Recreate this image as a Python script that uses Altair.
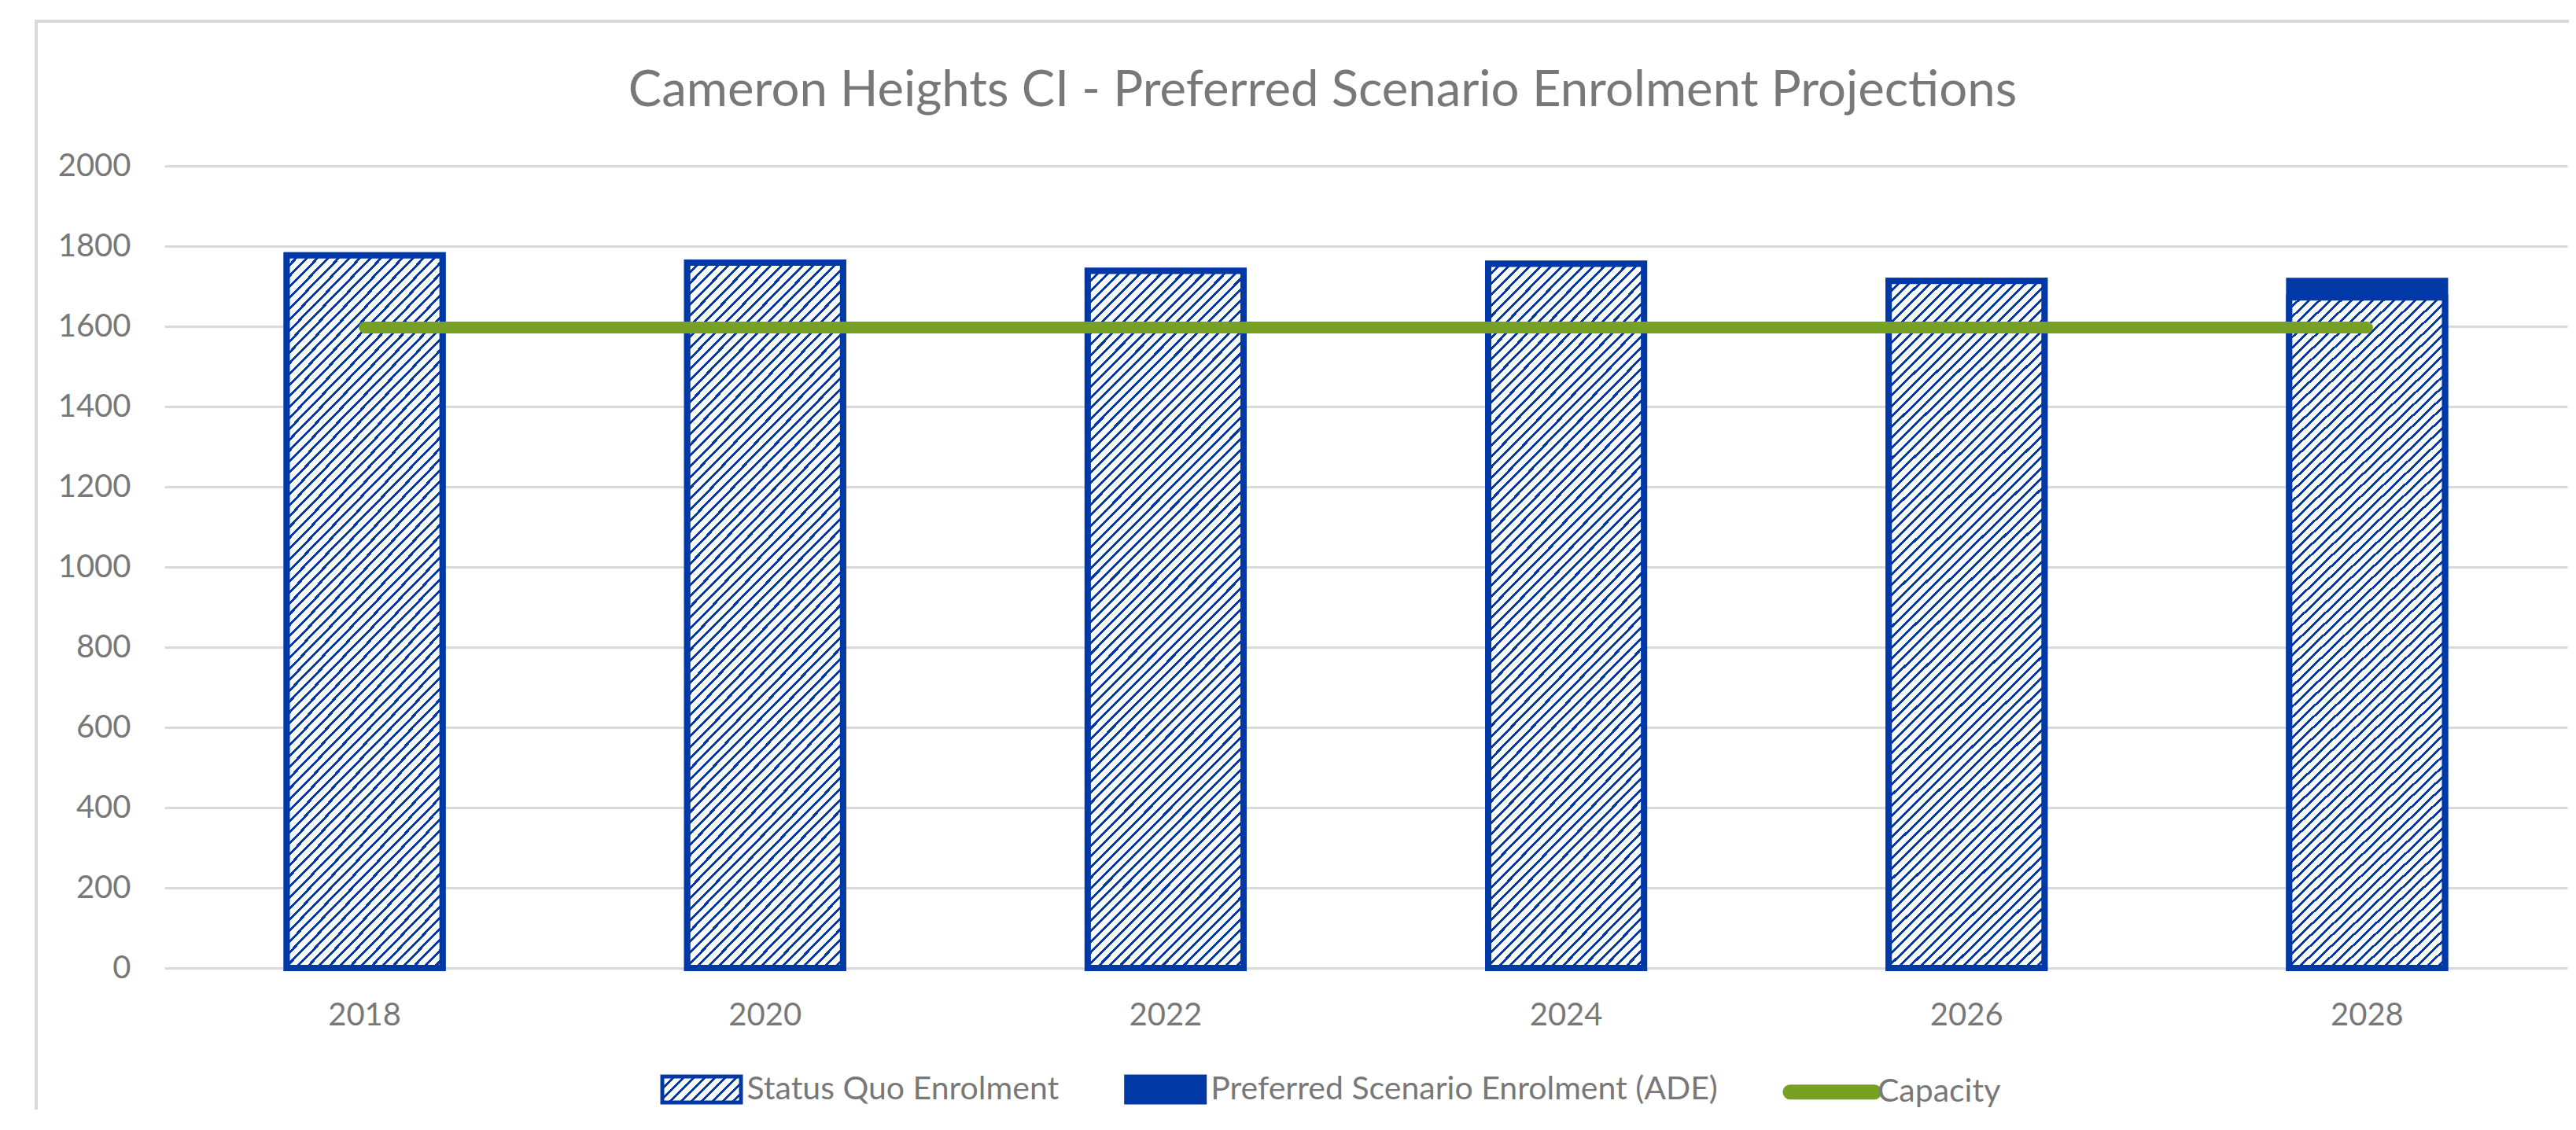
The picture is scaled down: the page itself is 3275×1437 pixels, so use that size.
import altair as alt
import pandas as pd

# ---------------- data ----------------
years = ["2018", "2020", "2022", "2024", "2026", "2028"]
status_quo = [1777, 1759, 1738, 1756, 1713, 1672]
preferred = [1777, 1759, 1738, 1756, 1713, 1713]
capacity = [1597, 1597, 1597, 1597, 1597, 1597]
series_names = ["Status Quo Enrolment", "Preferred Scenario Enrolment (ADE)", "Capacity"]
series_keys = ["sq", "pref", "cap"]
y_ticks = [0, 200, 400, 600, 800, 1000, 1200, 1400, 1600, 1800, 2000]
title_text = "Cameron Heights CI - Preferred Scenario Enrolment Projections"

# ---------------- styles ----------------
BLUE = "#0039A6"
GREEN = "#77A124"
GRID = "#D9D9D9"
TEXT = "#787878"
FONT = "Lato"

W, H = 3055, 1020


def hatch_coords(r):
    # gradient vector (objectBoundingBox units) giving 45deg "/" stripes for a box of aspect h/w = r
    a = (1 + r) / (1 + r * r)
    return a, a * r


def hatch_stops(n, frac):
    out = []
    for i in range(n):
        s0, s1, s2 = i / n, (i + frac) / n, (i + 1) / n
        out += [(s0, BLUE), (s1, BLUE), (s1, "#FFFFFF"), (s2, "#FFFFFF")]
    return out


bx, by = hatch_coords(4.45)
bar_hatch = alt.LinearGradient(
    gradient="linear",
    x1=0, y1=0, x2=bx, y2=by,
    stops=[alt.GradientStop(offset=o, color=c) for o, c in hatch_stops(80, 0.3)],
)

lx, ly = hatch_coords(0.33)
leg_stops = ", ".join("{offset: %.5f, color: '%s'}" % (o, c) for o, c in hatch_stops(10, 0.3))
leg_grad = "{gradient: 'linear', x1: 0, y1: 0, x2: %.4f, y2: %.4f, stops: [%s]}" % (lx, ly, leg_stops)
fill_expr = (
    "datum.value == 'Status Quo Enrolment' ? %s : (datum.value == 'Capacity' ? '%s' : '%s')"
    % (leg_grad, GREEN, BLUE)
)
stroke_expr = "datum.value == 'Capacity' ? '%s' : '%s'" % (GREEN, BLUE)

rect_path = "M-0.909,-0.3H0.909V0.3H-0.909Z"
capsule_path = (
    "M-0.973,-0.127H0.973A0.127,0.127 0 0 1 0.973,0.127"
    "H-0.973A0.127,0.127 0 0 1 -0.973,-0.127Z"
)

df = pd.DataFrame(
    {"year": years, "status_quo": status_quo, "preferred": preferred, "capacity": capacity}
)
legend_df = pd.DataFrame({"series": series_names, "series_key": series_keys})

xscale = alt.Scale(domain=years, paddingInner=0.611, paddingOuter=0.3055)
yscale = alt.Scale(domain=[0, 2000], nice=False)

xaxis = alt.Axis(
    title=None, labelAngle=0, labelFont=FONT, labelFontSize=40, labelColor=TEXT,
    labelPadding=40, ticks=False, domain=False, grid=False,
)
yaxis = alt.Axis(
    title=None, values=y_ticks, format="d", labelFont=FONT, labelFontSize=40,
    labelColor=TEXT, labelPadding=43, ticks=False, domain=False, grid=True,
    gridColor=GRID, gridWidth=3,
)


def xy(yfield):
    return dict(
        x=alt.X("year:N", scale=xscale, sort=years, axis=xaxis),
        y=alt.Y(yfield, scale=yscale, axis=yaxis),
    )


frame = alt.Chart(alt.Data(values=[{"k": 1}])).mark_rect(
    fillOpacity=0, stroke=GRID, strokeWidth=4
).encode(
    x=alt.value(-163), y=alt.value(-184), x2=alt.value(W + 200), y2=alt.value(H + 400)
)

pref_bars = alt.Chart(df).mark_bar(fill=BLUE, stroke=BLUE, strokeWidth=8).encode(
    **xy("preferred:Q")
)

sq_bars = alt.Chart(df).mark_bar(fill=bar_hatch, stroke=BLUE, strokeWidth=8).encode(
    **xy("status_quo:Q")
)

cap_line = alt.Chart(df).mark_line(color=GREEN, strokeWidth=15, strokeCap="round").encode(
    **xy("capacity:Q")
)

legend_layer = (
    alt.Chart(legend_df)
    .mark_point(filled=True)
    .encode(
        color=alt.Color(
            "series_key:N",
            scale=alt.Scale(domain=series_keys, range=[BLUE, BLUE, GREEN]),
            legend=None,
        ),
        shape=alt.Shape(
            "series:N",
            scale=alt.Scale(domain=series_names, range=[rect_path, rect_path, capsule_path]),
            legend=alt.Legend(
                title=None, orient="none", legendX=625.5, legendY=1117,
                direction="horizontal", columns=3, columnPadding=74.7, padding=0,
                symbolSize=12100, symbolStrokeWidth=5,
                symbolFillColor={"expr": fill_expr},
                symbolStrokeColor={"expr": stroke_expr},
                symbolOpacity=1,
                labelFont=FONT, labelFontSize=41, labelColor=TEXT, labelOffset=0,
                labelLimit=2000,
            ),
        ),
    )
    .transform_filter("false")
)

chart = (
    alt.layer(frame, pref_bars, sq_bars, cap_line, legend_layer)
    .properties(
        width=W, height=H,
        title=alt.Title(
            title_text, font=FONT, fontSize=63.5, color=TEXT, fontWeight="normal",
            anchor="middle", frame="group", offset=-173, baseline="alphabetic", dx=-55,
        ),
        autosize=alt.AutoSizeParams(type="none"),
        padding={"left": 201, "top": 203, "right": 2, "bottom": 180},
        background="white",
    )
    .configure_view(stroke=None)
)

chart.save("out.html", embed_options={"renderer": "svg", "actions": False})
